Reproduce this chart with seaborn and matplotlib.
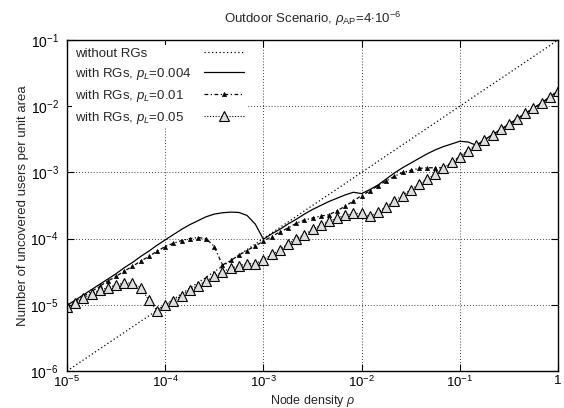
import matplotlib
matplotlib.use("Agg")
import matplotlib.pyplot as plt
import numpy as np
import pandas as pd
import seaborn as sns
from matplotlib.ticker import FixedLocator, FixedFormatter, NullLocator

# ---------------- data ----------------
# node density exponents (log10 rho), sampling of the curves
rho_exp = [-5.0, -4.917, -4.833, -4.75, -4.667, -4.583, -4.5, -4.417, -4.333, -4.25,
           -4.167, -4.083, -4.0, -3.917, -3.833, -3.75, -3.667, -3.583, -3.5, -3.417,
           -3.333, -3.25, -3.167, -3.083, -3.0, -2.917, -2.833, -2.75, -2.667, -2.583,
           -2.5, -2.417, -2.333, -2.25, -2.167, -2.083, -2.0, -1.917, -1.833, -1.75,
           -1.667, -1.583, -1.5, -1.417, -1.333, -1.25, -1.167, -1.083, -1.0, -0.917,
           -0.833, -0.75, -0.667, -0.583, -0.5, -0.417, -0.333, -0.25, -0.167, -0.083, 0.0]

# log10 of uncovered users per unit area
pl_0004_log = [-5.01, -4.93, -4.85, -4.77, -4.69, -4.61, -4.53, -4.44, -4.36, -4.27,
               -4.19, -4.10, -4.02, -3.94, -3.86, -3.79, -3.73, -3.67, -3.63, -3.61,
               -3.60, -3.605, -3.65, -3.78, -4.01, -3.93, -3.86, -3.78, -3.71, -3.63,
               -3.56, -3.50, -3.44, -3.39, -3.34, -3.30, -3.32, -3.26, -3.19, -3.10,
               -3.01, -2.93, -2.86, -2.79, -2.72, -2.66, -2.61, -2.57, -2.53, -2.54,
               -2.59, -2.51, -2.43, -2.35, -2.27, -2.19, -2.11, -2.03, -1.95, -1.86, -1.77]

pl_001_log = [-5.03, -4.95, -4.87, -4.80, -4.72, -4.64, -4.57, -4.49, -4.42, -4.34,
              -4.27, -4.19, -4.12, -4.07, -4.03, -4.00, -3.985, -4.00, -4.12, -4.40,
              -4.33, -4.25, -4.18, -4.11, -4.04, -3.97, -3.90, -3.84, -3.77, -3.72,
              -3.69, -3.66, -3.64, -3.58, -3.51, -3.43, -3.35, -3.28, -3.20, -3.13,
              -3.06, -3.00, -2.97, -2.94, -2.93, -2.93, -2.93, -2.85, -2.76, -2.67,
              -2.59, -2.51, -2.43, -2.35, -2.27, -2.19, -2.11, -2.03, -1.95, -1.86, -1.77]

pl_005_log = [-5.04, -4.97, -4.90, -4.83, -4.78, -4.74, -4.70, -4.67, -4.67, -4.74,
              -4.93, -5.09, -5.00, -4.94, -4.86, -4.77, -4.71, -4.64, -4.57, -4.50,
              -4.45, -4.41, -4.38, -4.38, -4.32, -4.24, -4.17, -4.08, -4.00, -3.94,
              -3.86, -3.80, -3.74, -3.69, -3.65, -3.62, -3.62, -3.66, -3.60, -3.52,
              -3.43, -3.35, -3.26, -3.18, -3.10, -3.02, -2.93, -2.85, -2.76, -2.67,
              -2.59, -2.51, -2.43, -2.35, -2.27, -2.19, -2.11, -2.03, -1.95, -1.86, -1.77]

# "without RGs" straight line
no_rg_rho = [1e-5, 1.0]
no_rg_val = [1e-6, 1e-1]

labels = ["without RGs", r"with RGs, $p_L$=0.004", r"with RGs, $p_L$=0.01", r"with RGs, $p_L$=0.05"]
title = r"Outdoor Scenario, $\rho_{\mathrm{AP}}$=4$\cdot$10$^{\mathrm{-6}}$"
xlabel = r"Node density $\rho$"
ylabel = "Number of uncovered users per unit area"

xtick_vals = [1e-5, 1e-4, 1e-3, 1e-2, 1e-1, 1.0]
xtick_labels = [r"10$^{\mathrm{-5}}$", r"10$^{\mathrm{-4}}$", r"10$^{\mathrm{-3}}$",
                r"10$^{\mathrm{-2}}$", r"10$^{\mathrm{-1}}$", "1"]
ytick_vals = [1e-6, 1e-5, 1e-4, 1e-3, 1e-2, 1e-1]
ytick_labels = [r"10$^{\mathrm{-6}}$", r"10$^{\mathrm{-5}}$", r"10$^{\mathrm{-4}}$",
                r"10$^{\mathrm{-3}}$", r"10$^{\mathrm{-2}}$", r"10$^{\mathrm{-1}}$"]

# ---------------- styling ----------------
sns.set_style("ticks")
plt.rcParams["font.family"] = ["Liberation Sans", "DejaVu Sans"]
plt.rcParams["mathtext.fontset"] = "custom"
plt.rcParams["mathtext.rm"] = "Liberation Sans"
plt.rcParams["mathtext.it"] = "Liberation Sans:italic"
plt.rcParams["mathtext.bf"] = "Liberation Sans:bold"
plt.rcParams["mathtext.sf"] = "Liberation Sans"
FS = 9.5
TFS = 10

rho = np.power(10.0, rho_exp)
df = pd.DataFrame({
    "rho": rho,
    "p0004": np.power(10.0, pl_0004_log),
    "p001": np.power(10.0, pl_001_log),
    "p005": np.power(10.0, pl_005_log),
})

fig = plt.figure(figsize=(5.64, 4.08), dpi=100)
ax = fig.add_axes([67 / 564, 37 / 408, (558 - 67) / 564, (371 - 40) / 408])
ax.set_xscale("log")
ax.set_yscale("log")

sns.lineplot(x=no_rg_rho, y=no_rg_val, ax=ax, color="k", linewidth=0.9,
             linestyle=(0, (1, 2)), label=labels[0], errorbar=None)
sns.lineplot(data=df, x="rho", y="p0004", ax=ax, color="k", linewidth=0.9,
             linestyle="-", label=labels[1], errorbar=None)
sns.lineplot(data=df, x="rho", y="p001", ax=ax, color="k", linewidth=0.9,
             linestyle=(0, (3, 2, 1, 2)), marker="^", markersize=3.0,
             markerfacecolor="k", markeredgecolor="k", markeredgewidth=0.5,
             label=labels[2], errorbar=None)
sns.lineplot(data=df, x="rho", y="p005", ax=ax, color="k", linewidth=0.8,
             linestyle=(0, (1, 1.5)), marker="^", markersize=6.5,
             markerfacecolor="#dedede", markeredgecolor="k", markeredgewidth=0.8,
             label=labels[3], errorbar=None)

ax.set_xlim(1e-5, 1.0)
ax.set_ylim(1e-6, 1e-1)
ax.xaxis.set_major_locator(FixedLocator(xtick_vals))
ax.xaxis.set_major_formatter(FixedFormatter(xtick_labels))
ax.yaxis.set_major_locator(FixedLocator(ytick_vals))
ax.yaxis.set_major_formatter(FixedFormatter(ytick_labels))
ax.xaxis.set_minor_locator(NullLocator())
ax.yaxis.set_minor_locator(NullLocator())
ax.tick_params(which="major", direction="in", top=True, right=True, length=5,
               width=0.8, labelsize=TFS, colors="k")
ax.tick_params(axis="x", pad=3, labelsize=9.5)
ax.tick_params(axis="y", pad=6)
ax.grid(True, which="major", color="k", linestyle=(0, (1, 2.5)), linewidth=0.6)
for s in ax.spines.values():
    s.set_linewidth(1.0)
    s.set_color("k")

ax.set_title(title, fontsize=FS, pad=12)
ax.set_xlabel(xlabel, fontsize=9)
ax.xaxis.set_label_coords(0.5, -(393 - 371) / 331)
ax.set_ylabel(ylabel, fontsize=FS, labelpad=1)

leg = ax.legend(loc="upper left", bbox_to_anchor=(0, 1), frameon=True, fancybox=False,
                facecolor="white", edgecolor="white", framealpha=1.0,
                markerfirst=False, handlelength=3.0, handletextpad=1.0,
                labelspacing=0.45, borderaxespad=0.38, borderpad=0.2, fontsize=FS)
leg.get_frame().set_linewidth(0)

# left-justify legend texts (gnuplot style): pad each row so handles line up
fig.canvas.draw()
try:
    r = fig.canvas.get_renderer()
    texts = leg.get_texts()
    ws = [t.get_window_extent(r).width for t in texts]
    mw = max(ws)
    ptpx = fig.dpi / 72.0
    rows = [row for col in leg._legend_handle_box.get_children() for row in col.get_children()]
    for row, w in zip(rows, ws):
        row.sep = leg.handletextpad * leg._fontsize + (mw - w) / ptpx
except Exception:
    pass

fig.savefig("out.png", dpi=100)
